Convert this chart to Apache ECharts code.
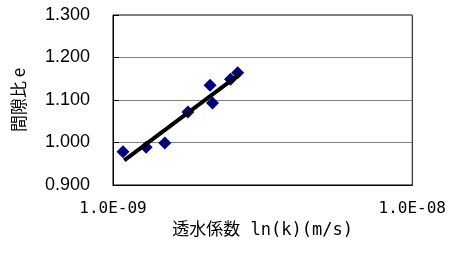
<!DOCTYPE html>
<html>
<head>
<meta charset="utf-8">
<script src="https://cdn.jsdelivr.net/npm/echarts@6/dist/echarts.min.js"></script>
<style>
  html, body { margin: 0; padding: 0; background: #fff; }
  #chart { width: 449px; height: 257px; }
</style>
</head>
<body>
<div id="chart"></div>
<script>
// 透水係数 k (m/s)
const kValues = [1.08e-9, 1.29e-9, 1.49e-9, 1.78e-9, 2.11e-9, 2.15e-9, 2.47e-9, 2.61e-9]
// 間隙比 e
const eValues = [0.978, 0.989, 0.999, 1.072, 1.135, 1.093, 1.149, 1.164]
// 近似線の両端
const trendK = [1.09e-9, 2.65e-9]
const trendE = [0.958, 1.161]

const yTicks = [0.9, 1.0, 1.1, 1.2, 1.3]

const chart = echarts.init(document.getElementById('chart'))

function expLabel(v) {
  const exp = Math.round(Math.log10(v))
  const mant = v / Math.pow(10, exp)
  const sign = exp < 0 ? '-' : '+'
  const a = Math.abs(exp)
  return mant.toFixed(1) + 'E' + sign + (a < 10 ? '0' + a : a)
}

chart.setOption({
  backgroundColor: '#fff',
  animation: false,
  grid: {
    left: 113,
    right: 36,
    top: 15,
    bottom: 72,
    show: true,
    borderColor: '#000',
    borderWidth: 1
  },
  xAxis: {
    type: 'log',
    logBase: 10,
    min: 1e-9,
    max: 1e-8,
    name: '透水係数 ln(k)(m/s)',
    nameLocation: 'middle',
    nameGap: 37,
    nameTextStyle: {
      fontFamily: "'DejaVu Sans Mono', 'Noto Sans CJK JP'",
      fontSize: 17,
      color: '#000'
    },
    axisLine: { lineStyle: { color: '#000', width: 1 } },
    axisTick: { show: false },
    splitLine: { show: false },
    axisLabel: {
      margin: 16,
      fontFamily: 'DejaVu Sans Mono',
      fontSize: 16,
      color: '#000',
      formatter: expLabel
    }
  },
  yAxis: {
    type: 'value',
    min: yTicks[0],
    max: yTicks[yTicks.length - 1],
    interval: 0.1,
    name: '間隙比 e',
    nameLocation: 'middle',
    nameGap: 86,
    nameRotate: 90,
    nameTextStyle: {
      fontFamily: 'Noto Sans CJK JP',
      fontSize: 17,
      color: '#000'
    },
    axisLine: { show: true, lineStyle: { color: '#000', width: 1 } },
    axisTick: { show: true, inside: true, length: 6, lineStyle: { color: '#000' } },
    splitLine: { show: true, lineStyle: { color: '#808080', width: 1 } },
    axisLabel: {
      margin: 23,
      fontFamily: 'Liberation Sans',
      fontSize: 18,
      color: '#000',
      formatter: function(v) {
        return v.toFixed(3)
      }
    }
  },
  series: [{
    type: 'scatter',
    symbol: 'diamond',
    symbolSize: 13,
    itemStyle: { color: '#000080', opacity: 1 },
    data: kValues.map(function(k, i) {
      return [k, eValues[i]]
    }),
    z: 2
  }, {
    type: 'line',
    symbol: 'none',
    lineStyle: { color: '#000', width: 4 },
    data: trendK.map(function(k, i) {
      return [k, trendE[i]]
    }),
    z: 3
  }]
})
</script>
</body>
</html>
